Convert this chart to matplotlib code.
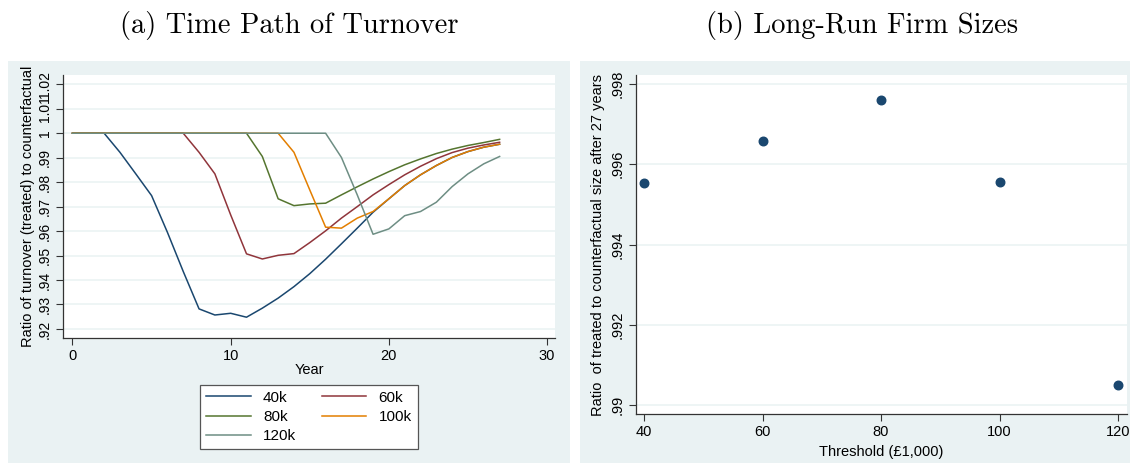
import matplotlib.pyplot as plt
from matplotlib.patches import Rectangle
import numpy as np

plt.rcParams['font.family'] = ['Liberation Sans', 'DejaVu Sans']

# panel (a): turnover ratio by year for each threshold
years = np.arange(0, 28)
turn_40k = [1, 1, 1, .9922, .9834, .9745, .9595, .9435, .9282, .9257, .9264, .9248, .9285, .9326,
            .9373, .9426, .9485, .9548, .9612, .9677, .9732, .9786, .9830, .9868, .9901, .9925, .9943, .9955]
turn_60k = [1, 1, 1, 1, 1, 1, 1, 1, .9922, .9834, .9666, .9507, .9486, .9501,
            .9508, .9553, .9601, .9653, .9700, .9748, .9790, .9830, .9865, .9896, .9921, .9939, .9952, .9963]
turn_80k = [1, 1, 1, 1, 1, 1, 1, 1, 1, 1, 1, 1, .9905, .9732,
            .9704, .9711, .9714, .9748, .9781, .9813, .9843, .9871, .9895, .9917, .9935, .9950, .9962, .9975]
turn_100k = [1, 1, 1, 1, 1, 1, 1, 1, 1, 1, 1, 1, 1, 1,
             .9922, .9768, .9616, .9612, .9653, .9680, .9732, .9786, .9830, .9868, .9901, .9925, .9943, .9955]
turn_120k = [1, 1, 1, 1, 1, 1, 1, 1, 1, 1, 1, 1, 1, 1,
             1, 1, 1, .9901, .9748, .9587, .9609, .9663, .9680, .9718, .9782, .9834, .9875, .9905]
series_labels = ['40k', '60k', '80k', '100k', '120k']

# panel (b): long-run size ratio after 27 years
thresholds = [40, 60, 80, 100, 120]
size_ratio = [.99553, .99657, .99760, .99556, .99050]

left_yticks = [.92, .93, .94, .95, .96, .97, .98, .99, 1, 1.01, 1.02]
left_yticklabels = ['.92', '.93', '.94', '.95', '.96', '.97', '.98', '.99', '1', '1.01', '1.02']
right_yticks = [.99, .992, .994, .996, .998]
right_yticklabels = ['.99', '.992', '.994', '.996', '.998']

colors = ['#1a476f', '#90353b', '#55752f', '#e37e00', '#6e8e84']
bg = '#eaf2f3'
W, H = 1130, 463

fig = plt.figure(figsize=(W / 100, H / 100), dpi=100)

def box(x0, y0, x1, y1):
    # pixel box (top-left origin) -> figure fractions
    return [x0 / W, 1 - y1 / H, (x1 - x0) / W, (y1 - y0) / H]

# graph region backgrounds
for x0, x1 in [(8, 570), (580, 1130)]:
    fig.patches.append(Rectangle((x0 / W, 0), (x1 - x0) / W, 1 - 61 / H,
                                 transform=fig.transFigure, facecolor=bg,
                                 edgecolor='none', zorder=-5))

def style(ax):
    ax.set_facecolor('white')
    for s in ['top', 'right']:
        ax.spines[s].set_visible(False)
    for s in ['left', 'bottom']:
        ax.spines[s].set_color('#333333')
        ax.spines[s].set_linewidth(0.9)
    ax.tick_params(direction='out', length=5, width=0.8, color='#333333',
                   labelsize=10.5, pad=3)
    ax.grid(axis='y', color=bg, linewidth=1.1)
    ax.set_axisbelow(True)
    for lab in ax.get_yticklabels():
        lab.set_rotation(90)
        lab.set_va('center')

# (a) time path
ax1 = fig.add_axes(box(63, 75, 555, 338))
lines = []
for vals, c, lab in zip([turn_40k, turn_60k, turn_80k, turn_100k, turn_120k], colors, series_labels):
    ln, = ax1.plot(years, vals, color=c, linewidth=1.1, label=lab)
    lines.append(ln)
ax1.set_xlim(-0.6, 30.5)
ax1.set_ylim(.9163, 1.0238)
ax1.set_xticks([0, 10, 20, 30])
ax1.set_yticks(left_yticks)
ax1.set_yticklabels(left_yticklabels)
style(ax1)
ax1.tick_params(axis='y', labelsize=10)
ax1.set_xlabel('Year', fontsize=10.5, labelpad=0)
ax1.set_ylabel('Ratio of turnover (treated) to counterfactual', fontsize=10.5, labelpad=2)

order = [0, 2, 4, 1, 3]
leg = fig.legend([lines[i] for i in order], [series_labels[i] for i in order],
                 loc='center', bbox_to_anchor=(309 / W, 1 - 417 / H), ncol=2,
                 fontsize=11, frameon=True, fancybox=False, edgecolor='#555555',
                 facecolor='white', framealpha=1,
                 handlelength=2.9, columnspacing=1.7, labelspacing=0.35,
                 borderpad=0.4, handletextpad=0.8)
leg.get_frame().set_linewidth(0.9)

# (b) long-run firm sizes
ax2 = fig.add_axes(box(636, 75, 1127, 414))
ax2.scatter(thresholds, size_ratio, s=38, color=colors[0], zorder=3)
ax2.set_xlim(38.65, 121.5)
ax2.set_ylim(.98978, .99822)
ax2.set_xticks(thresholds)
ax2.set_yticks(right_yticks)
ax2.set_yticklabels(right_yticklabels)
style(ax2)
ax2.set_xlabel('Threshold (£1,000)', fontsize=10.5, labelpad=4)
ax2.set_ylabel('Ratio  of treated to counterfactual size after 27 years', fontsize=10.5, labelpad=4)

# panel captions
fig.text(289 / W, 1 - 25 / H, '(a) Time Path of Turnover', family='cmr10',
         fontsize=20.5, ha='center', va='center')
fig.text(862 / W, 1 - 25 / H, '(b) Long-Run Firm Sizes', family='cmr10',
         fontsize=20.5, ha='center', va='center')

fig.savefig('out.png', dpi=100)
